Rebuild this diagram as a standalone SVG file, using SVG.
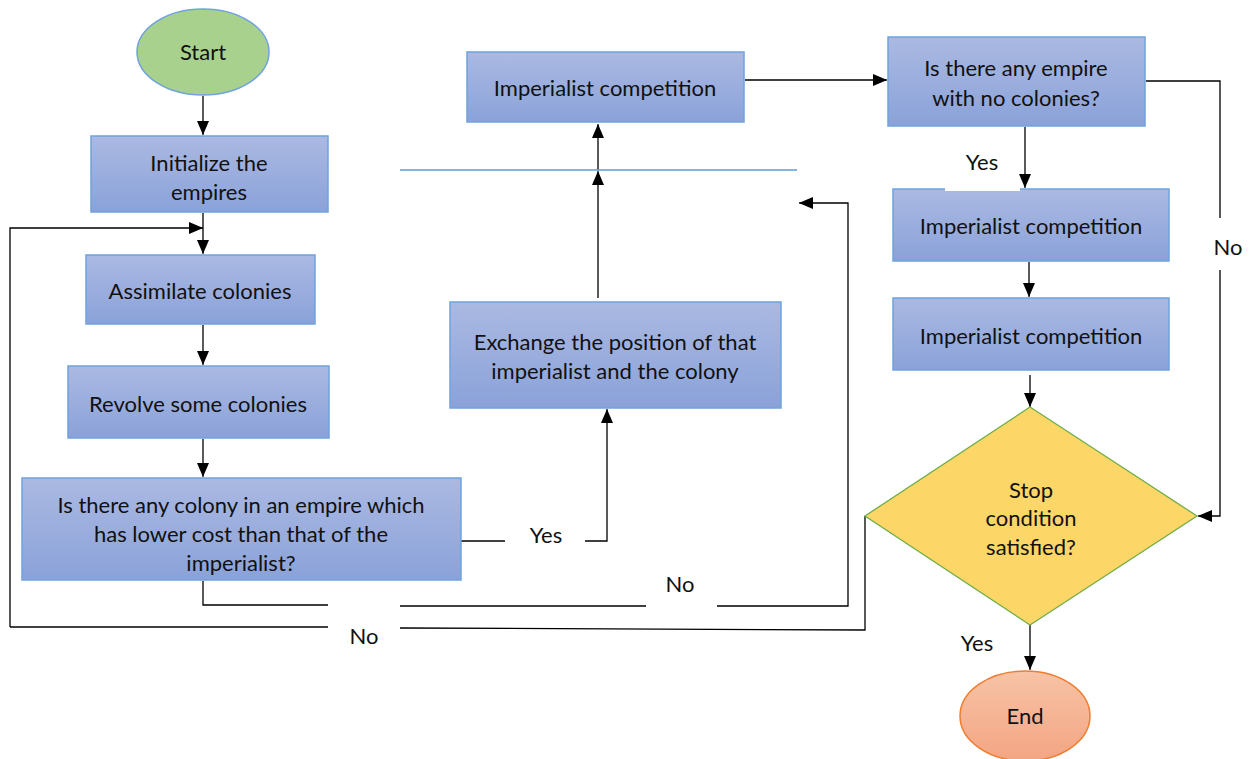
<svg xmlns="http://www.w3.org/2000/svg" width="1251" height="759" viewBox="0 0 1251 759">
<defs>
<linearGradient id="gBox" x1="0" y1="0" x2="0" y2="1"><stop offset="0" stop-color="#abb9e2"/><stop offset="1" stop-color="#8aa2d9"/></linearGradient>
<linearGradient id="gEnd" x1="0" y1="0" x2="0" y2="1"><stop offset="0" stop-color="#f7c3a6"/><stop offset="1" stop-color="#f3a583"/></linearGradient>
<marker id="ah" viewBox="0 0 12 14" refX="14" refY="7" markerWidth="14" markerHeight="14" markerUnits="userSpaceOnUse" orient="auto"><path d="M0,1 L14,7 L0,13 Z" fill="#000"/></marker>
</defs>
<style>
.box{fill:url(#gBox);stroke:#6fa3dc;stroke-width:1.5}
.t{font-family:Lato,"Open Sans","Liberation Sans",sans-serif;font-size:22px;fill:#111;text-anchor:middle}
.c{fill:none;stroke:#000;stroke-width:1.3}
.ca{fill:none;stroke:#000;stroke-width:1.3;marker-end:url(#ah)}
</style>
<rect width="1251" height="759" fill="#fff"/>

<g id="connectors">
<line class="ca" x1="203" y1="96" x2="203" y2="135"/>
<line class="ca" x1="203" y1="213" x2="203" y2="254"/>
<polyline class="ca" points="10,627 10,228 203,228"/>
<line class="ca" x1="203" y1="325" x2="203" y2="365"/>
<line class="ca" x1="203" y1="439" x2="203" y2="477"/>
<line class="c" x1="461" y1="541" x2="505" y2="541"/>
<polyline class="ca" points="585,541 607,541 607,409"/>
<line class="ca" x1="598" y1="298" x2="598" y2="171"/>
<line class="ca" x1="598" y1="170" x2="598" y2="124"/>
<line x1="400" y1="170" x2="797" y2="170" stroke="#5b9bd5" stroke-width="1.3"/>
<line class="ca" x1="745" y1="80" x2="887" y2="80"/>
<polyline class="c" points="203,581 203,605 328,605"/>
<line class="c" x1="400" y1="606" x2="646" y2="606"/>
<polyline class="ca" points="717,606 848,606 848,203 799,203"/>
<line class="c" x1="10" y1="627" x2="328" y2="627"/>
<polyline class="c" points="400,628 865,630 865,516"/>
<polyline class="c" points="1146,81 1220,81 1220,218"/>
<polyline class="ca" points="1220,270 1220,516 1198,516"/>
<line class="ca" x1="1025" y1="127" x2="1025" y2="188"/>
<line class="ca" x1="1029" y1="262" x2="1029" y2="297"/>
<line class="ca" x1="1030" y1="375" x2="1030" y2="407"/>
<line class="ca" x1="1030" y1="625" x2="1030" y2="670"/>
</g>

<g id="start"><ellipse cx="203" cy="52" rx="66" ry="43" fill="#a9d18e" stroke="#6fa3dc" stroke-width="1.5"/><text class="t" x="203" y="60">Start</text></g>
<g id="init"><rect class="box" x="91" y="136" width="237" height="76"/><text class="t" x="209" y="171">Initialize the</text><text class="t" x="209" y="200">empires</text></g>
<g id="assimilate"><rect class="box" x="86" y="255" width="229" height="69"/><text class="t" x="200" y="299">Assimilate colonies</text></g>
<g id="revolve"><rect class="box" x="68" y="366" width="261" height="72"/><text class="t" x="198" y="412">Revolve some colonies</text></g>
<g id="q1"><rect class="box" x="22" y="478" width="439" height="102"/><text class="t" x="241" y="513">Is there any colony in an empire which</text><text class="t" x="241" y="542">has lower cost than that of the</text><text class="t" x="241" y="571">imperialist?</text></g>
<g id="exchange"><rect class="box" x="450" y="302" width="331" height="106"/><text class="t" x="615" y="350">Exchange the position of that</text><text class="t" x="615" y="379">imperialist and the colony</text></g>
<g id="ic1"><rect class="box" x="467" y="52" width="277" height="70"/><text class="t" x="605" y="96">Imperialist competition</text></g>
<g id="q2"><rect class="box" x="888" y="37" width="257" height="89"/><text class="t" x="1016" y="76">Is there any empire</text><text class="t" x="1016" y="106">with no colonies?</text></g>
<g id="ic2"><rect class="box" x="893" y="189" width="276" height="72"/><rect x="945" y="186" width="75" height="5" fill="#fff"/><text class="t" x="1031" y="234">Imperialist competition</text></g>
<g id="ic3"><rect class="box" x="893" y="298" width="276" height="72"/><text class="t" x="1031" y="344">Imperialist competition</text></g>
<g id="stop"><polygon points="1030,407 1197,516 1030,625 865,516" fill="#fcd767" stroke="#70ad47" stroke-width="1.3"/><text class="t" x="1031" y="498">Stop</text><text class="t" x="1031" y="526">condition</text><text class="t" x="1031" y="555">satisfied?</text></g>
<g id="end"><ellipse cx="1025" cy="716" rx="65" ry="45" fill="url(#gEnd)" stroke="#ed7d31" stroke-width="1.5"/><text class="t" x="1025" y="724">End</text></g>

<g id="labels">
<text class="t" x="546" y="543">Yes</text>
<text class="t" x="680" y="592">No</text>
<text class="t" x="364" y="644">No</text>
<text class="t" x="982" y="170">Yes</text>
<text class="t" x="1228" y="255">No</text>
<text class="t" x="977" y="651">Yes</text>
</g>
</svg>
